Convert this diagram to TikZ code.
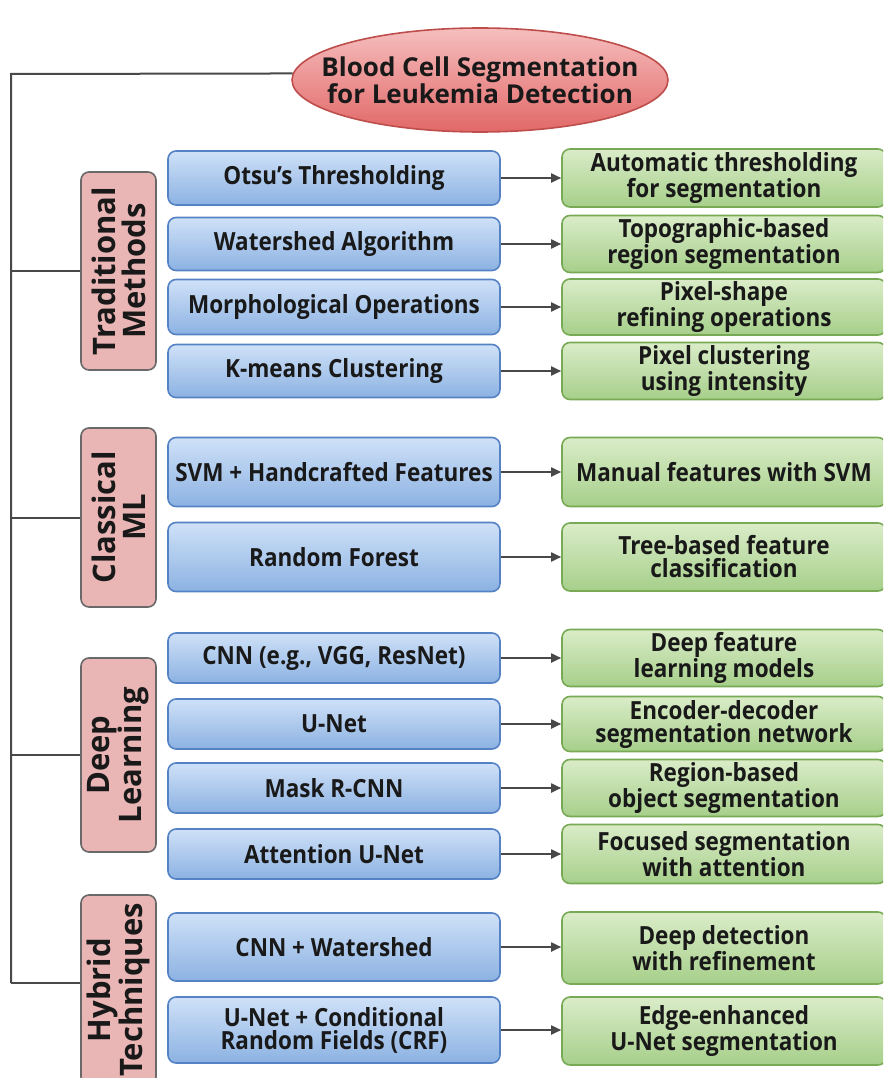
\documentclass[tikz,border=0pt]{standalone}
\usepackage{fontspec}
\newfontfamily\boite{Open Sans}[FakeStretch=0.9]
\newfontfamily\titre{Open Sans}
\usetikzlibrary{shapes.geometric,arrows.meta}

\definecolor{bleuhaut}{RGB}{207,225,248}
\definecolor{bleubas}{RGB}{140,178,226}
\definecolor{bleutrait}{RGB}{84,130,196}
\definecolor{verthaut}{RGB}{218,236,200}
\definecolor{vertbas}{RGB}{166,207,138}
\definecolor{verttrait}{RGB}{120,170,86}
\definecolor{rose}{RGB}{234,181,181}
\definecolor{grisbord}{RGB}{105,105,105}
\definecolor{rougehaut}{RGB}{246,190,190}
\definecolor{rougebas}{RGB}{226,104,104}
\definecolor{rougetrait}{RGB}{190,78,76}
\definecolor{trait}{RGB}{72,72,72}

\tikzset{
  methode/.style={draw=bleutrait, line width=1.6pt, rounded corners=8pt,
    top color=bleuhaut, bottom color=bleubas, minimum width=332pt,
    inner sep=0pt, align=center, text=black!90,
    font=\boite\bfseries\fontsize{25}{23}\selectfont},
  effet/.style={draw=verttrait, line width=1.6pt, rounded corners=8pt,
    top color=verthaut, bottom color=vertbas, minimum width=324pt,
    inner sep=0pt, align=center, text=black!90,
    font=\boite\bfseries\fontsize{25}{23}\selectfont},
  categorie/.style={draw=grisbord, fill=rose, line width=1.6pt,
    rounded corners=8pt, minimum height=75pt, inner sep=0pt, rotate=90,
    align=center, text=black!90, font=\titre\bfseries\fontsize{31}{30}\selectfont},
  racine/.style={ellipse, draw=rougetrait, line width=1.6pt,
    top color=rougehaut, bottom color=rougebas, minimum width=376pt,
    minimum height=104pt, inner xsep=-26pt, inner ysep=0pt, align=center,
    text=black!90, font=\titre\bfseries\fontsize{26}{25}\selectfont},
  lien/.style={draw=trait, line width=2pt},
  fleche/.style={draw=trait, line width=1.8pt, -{Triangle[length=10pt,width=9pt]}}
}

\begin{document}
\begin{tikzpicture}[x=1pt,y=-1pt]
\clip (0,0) rectangle (883,1078);

% Racine
\node[racine] (racine) at (480,80) {Blood Cell Segmentation\\for Leukemia Detection};

% Categories
\node[categorie, minimum width=198pt] (trad) at (118.5,271) {Traditional\\Methods};
\node[categorie, minimum width=179pt] (classique) at (118.5,517.5) {Classical\\ML};
\node[categorie, minimum width=194pt] (deep) at (118.5,755) {Deep\\Learning};
\node[categorie, minimum width=190pt] (hybride) at (118.5,990) {Hybrid\\Techniques};

% Tronc et branches
\coordinate (haut) at (11,74);
\coordinate (bas) at (11,983);
\draw[lien] (racine.178) -- (haut) -- (bas);
\draw[lien] (trad.north) -- (trad.north -| haut);
\draw[lien] (classique.north) -- (classique.north -| haut);
\draw[lien] (deep.north) -- (deep.north -| haut);
\draw[lien] (bas) -- (bas -| hybride.north);

% Methodes traditionnelles
\node[methode, minimum height=54pt] (m1) at (334,178) {Otsu’s Thresholding};
\node[effet, minimum height=58pt] (d1) at (724,178) {Automatic thresholding\\for segmentation};
\node[methode, minimum height=53pt] (m2) at (334,244) {Watershed Algorithm};
\node[effet, minimum height=57pt] (d2) at (724,244) {Topographic-based\\region segmentation};
\node[methode, minimum height=55pt] (m3) at (334,307) {Morphological Operations};
\node[effet, minimum height=56pt] (d3) at (724,307) {Pixel-shape\\refining operations};
\node[methode, minimum height=53pt] (m4) at (334,371) {K-means Clustering};
\node[effet, minimum height=57pt] (d4) at (724,371) {Pixel clustering\\using intensity};

% ML classique
\node[methode, minimum height=69pt] (m5) at (334,472) {SVM + Handcrafted Features};
\node[effet, minimum height=69pt] (d5) at (724,472) {Manual features with SVM};
\node[methode, minimum height=69pt] (m6) at (334,557) {Random Forest};
\node[effet, minimum height=68pt] (d6) at (724,557) {Tree-based feature\\classification};

% Apprentissage profond
\node[methode, minimum height=50pt] (m7) at (334,658) {CNN (e.g., VGG, ResNet)};
\node[effet, minimum height=57pt] (d7) at (724,658) {Deep feature\\learning models};
\node[methode, minimum height=50pt] (m8) at (334,724) {U-Net};
\node[effet, minimum height=55pt] (d8) at (724,724) {Encoder-decoder\\segmentation network};
\node[methode, minimum height=50pt] (m9) at (334,788) {Mask R-CNN};
\node[effet, minimum height=57pt] (d9) at (724,788) {Region-based\\object segmentation};
\node[methode, minimum height=50pt] (m10) at (334,854) {Attention U-Net};
\node[effet, minimum height=59pt] (d10) at (724,854) {Focused segmentation\\with attention};

% Hybrides
\node[methode, minimum height=68pt] (m11) at (334,947) {CNN + Watershed};
\node[effet, minimum height=72pt] (d11) at (724,948) {Deep detection\\with refinement};
\node[methode, minimum height=66pt] (m12) at (334,1030) {U-Net + Conditional\\Random Fields (CRF)};
\node[effet, minimum height=68pt] (d12) at (724,1031) {Edge-enhanced\\U-Net segmentation};

% Fleches
\foreach \i in {1,...,12}
  \draw[fleche] (m\i.east) -- (m\i.east -| d\i.west);

\end{tikzpicture}
\end{document}
